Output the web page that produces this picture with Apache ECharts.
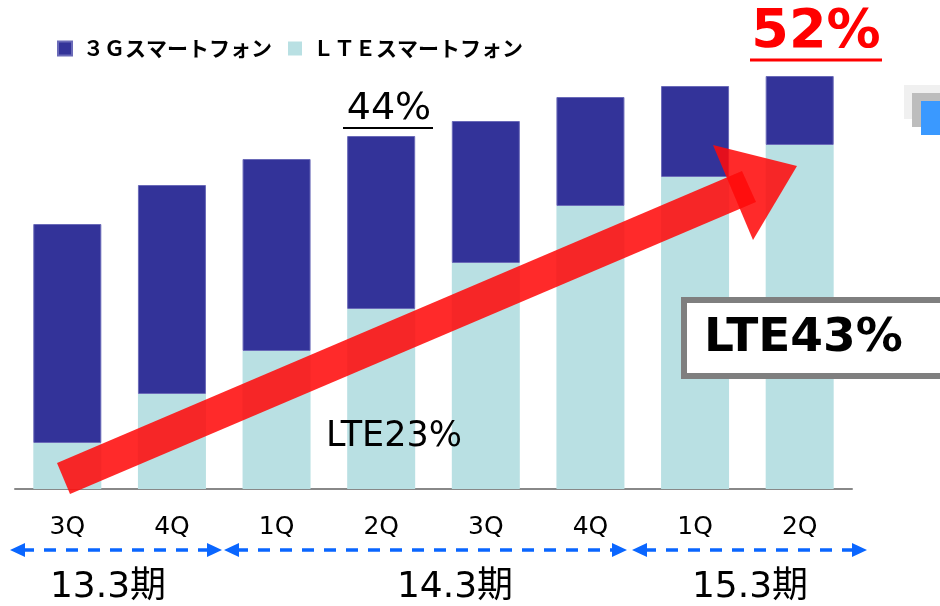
<!DOCTYPE html>
<html>
<head>
<meta charset="utf-8">
<script src="https://cdn.jsdelivr.net/npm/echarts@6/dist/echarts.min.js"></script>
<style>
  html, body { margin: 0; padding: 0; background: #fff; }
  #chart { width: 940px; height: 606px; }
</style>
</head>
<body>
<div id="chart"></div>
<script>
// quarters on the x axis
var quarters = ['3Q', '4Q', '1Q', '2Q', '3Q', '4Q', '1Q', '2Q']
// stacked values
var lteValues = [46, 95, 138, 180, 226, 283, 312, 344]
var g3Values = [219, 209, 192, 173, 142, 109, 91, 69]
var seriesNames = ['３Ｇスマートフォン', 'ＬＴＥスマートフォン']
// fiscal periods under the axis
var periods = ['13.3期', '14.3期', '15.3期']

var latin = 'DejaVu Sans, Noto Sans CJK JP, sans-serif'
var blue = '#0a66ff'

function dashedArrow(x1, x2, y) {
  return [
    {
      type: 'line',
      shape: { x1: x1 + 12, y1: y, x2: x2 - 12, y2: y },
      style: { stroke: blue, lineWidth: 3.5, lineDash: [12, 10] }
    },
    {
      type: 'polygon',
      shape: { points: [[x1, y], [x1 + 15, y - 7], [x1 + 15, y + 7]] },
      style: { fill: blue }
    },
    {
      type: 'polygon',
      shape: { points: [[x2, y], [x2 - 15, y - 7], [x2 - 15, y + 7]] },
      style: { fill: blue }
    }
  ]
}

var chart = echarts.init(document.getElementById('chart'))
chart.setOption({
  animation: false,
  legend: {
    data: seriesNames,
    left: 52,
    top: 33,
    icon: 'rect',
    itemWidth: 14,
    itemHeight: 14,
    itemGap: 16,
    textStyle: {
      fontFamily: 'Noto Sans CJK JP',
      fontWeight: 'bold',
      fontSize: 21,
      color: '#000',
      padding: [0, 0, 0, 6]
    }
  },
  grid: {
    left: 15,
    right: 88,
    top: 39,
    bottom: 117
  },
  xAxis: {
    type: 'category',
    data: quarters,
    axisLine: { lineStyle: { color: '#888', width: 2 } },
    axisTick: { inside: true, length: 9, lineStyle: { color: '#888', width: 2 } },
    axisLabel: { margin: 26, fontSize: 25, color: '#000', fontFamily: latin }
  },
  yAxis: {
    type: 'value',
    min: 0,
    max: 450,
    show: false
  },
  series: [
    {
      name: seriesNames[1],
      type: 'bar',
      stack: 'total',
      barWidth: '65%',
      itemStyle: { color: '#b9e0e3' },
      data: lteValues
    },
    {
      name: seriesNames[0],
      type: 'bar',
      stack: 'total',
      barWidth: '65%',
      itemStyle: { color: '#333399', borderColor: '#6a6ab8', borderWidth: 1 },
      data: g3Values
    }
  ],
  graphic: [
    // gray/blue decoration at the right edge
    { type: 'rect', shape: { x: 904, y: 85, width: 40, height: 34 }, style: { fill: '#f0f0f0' } },
    { type: 'rect', shape: { x: 912, y: 93, width: 30, height: 34 }, style: { fill: '#bdbdbd' } },
    { type: 'rect', shape: { x: 921, y: 101, width: 22, height: 34 }, style: { fill: '#3a99ff' } },
    // big red arrow
    {
      type: 'polygon',
      shape: { points: [[57, 463], [70, 494], [756, 202], [742, 171]] },
      style: { fill: 'rgba(255, 10, 10, 0.87)' },
      z: 100
    },
    {
      type: 'polygon',
      shape: { points: [[713, 145], [797, 166], [753, 240]] },
      style: { fill: 'rgba(255, 10, 10, 0.87)' },
      z: 100
    },
    // annotations
    {
      type: 'text', x: 389, y: 109, z: 110,
      style: { text: '44%', font: '38px ' + latin, fill: '#000', align: 'center', verticalAlign: 'middle' }
    },
    { type: 'line', shape: { x1: 343, y1: 128, x2: 433, y2: 128 }, style: { stroke: '#000', lineWidth: 2 } },
    {
      type: 'text', x: 816, y: 33, z: 110,
      style: { text: '52%', font: 'bold 54px ' + latin, fill: '#ff0000', align: 'center', verticalAlign: 'middle' }
    },
    { type: 'line', shape: { x1: 750, y1: 60, x2: 882, y2: 60 }, style: { stroke: '#ff0000', lineWidth: 3 } },
    {
      type: 'text', x: 394, y: 437, z: 110,
      style: { text: 'LTE23%', font: '35px ' + latin, fill: '#000', align: 'center', verticalAlign: 'middle' }
    },
    {
      type: 'rect', z: 120,
      shape: { x: 684, y: 300, width: 280, height: 76 },
      style: { fill: '#fff', stroke: '#7f7f7f', lineWidth: 6 }
    },
    {
      type: 'text', x: 704, y: 339, z: 121,
      style: { text: 'LTE43%', font: 'bold 47px ' + latin, fill: '#000', align: 'left', verticalAlign: 'middle' }
    },
    // period arrows and labels
    ...dashedArrow(10, 222, 550),
    ...dashedArrow(224, 627, 550),
    ...dashedArrow(632, 867, 550),
    {
      type: 'text', x: 108, y: 588,
      style: { text: periods[0], font: '36px ' + latin, fill: '#000', align: 'center', verticalAlign: 'middle' }
    },
    {
      type: 'text', x: 455, y: 588,
      style: { text: periods[1], font: '36px ' + latin, fill: '#000', align: 'center', verticalAlign: 'middle' }
    },
    {
      type: 'text', x: 750, y: 588,
      style: { text: periods[2], font: '36px ' + latin, fill: '#000', align: 'center', verticalAlign: 'middle' }
    }
  ]
})
</script>
</body>
</html>
